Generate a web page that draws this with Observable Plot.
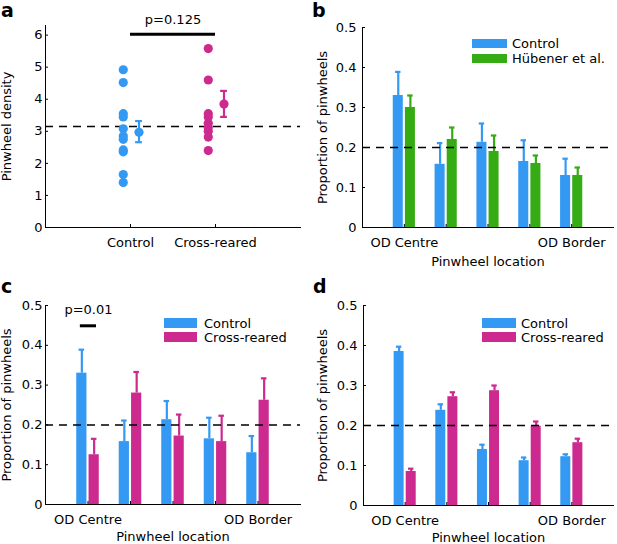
<!DOCTYPE html>
<html><head><meta charset="utf-8">
<script src="https://cdn.jsdelivr.net/npm/d3@7"></script>
<script src="https://cdn.jsdelivr.net/npm/@observablehq/plot@0.6"></script>
<style>
body{margin:0;background:#fff;font-family:"DejaVu Sans",sans-serif;}
#fig{position:relative;width:617px;height:544px;overflow:hidden;background:#fff}
.panel{position:absolute}
#overlay{position:absolute;left:0;top:0;pointer-events:none}
</style></head><body><div id="fig"></div>
<script>
const BLUE = "#3399f3", MAG = "#cc2a8f", GREEN = "#35ab14";

// ---- panel a: pinwheel density ----
const groupsA = ["Control", "Cross-reared"];
const controlDensity = [4.92, 4.52, 3.55, 3.45, 3.08, 2.85, 2.75, 2.42, 2.36, 1.65, 1.40];
const crossDensity = [5.58, 4.60, 3.55, 3.45, 3.25, 3.12, 3.00, 2.82, 2.40];
const densityMean = [2.97, 3.85];
const densityLow = [2.66, 3.45];
const densityHigh = [3.32, 4.26];
const densityBaseline = 3.15;
const densityTicks = [0, 1, 2, 3, 4, 5, 6];
const pA = "p=0.125", pAy = 6.03;

// ---- panels b-d: proportion of pinwheels by location ----
const locations = [1, 2, 3, 4, 5];
const locationLabels = ["OD Centre", "", "", "", "OD Border"];
const propTicks = [0, 0.1, 0.2, 0.3, 0.4, 0.5];
const controlProp = [0.330, 0.158, 0.213, 0.165, 0.130];
const controlErr  = [0.389, 0.211, 0.260, 0.218, 0.172];
const hubenerProp = [0.300, 0.220, 0.190, 0.160, 0.130];
const hubenerErr  = [0.330, 0.250, 0.230, 0.180, 0.150];
const crossProp   = [0.125, 0.280, 0.172, 0.158, 0.262];
const crossErr    = [0.165, 0.333, 0.226, 0.223, 0.317];
const control2Prop = [0.385, 0.238, 0.140, 0.112, 0.122];
const control2Err  = [0.397, 0.253, 0.152, 0.120, 0.128];
const cross2Prop   = [0.085, 0.272, 0.287, 0.198, 0.157];
const cross2Err    = [0.092, 0.283, 0.300, 0.210, 0.167];
const propBaseline = 0.2;
const pC = "p=0.01", pCy = 0.449;

const fig = document.getElementById("fig");
const FONT = {fontFamily: "DejaVu Sans, sans-serif", fontSize: "13px", background: "transparent", color: "black", overflow: "visible"};

function place(svg, left, top) {
  svg.classList.add("panel");
  svg.style.left = left + "px";
  svg.style.top = top + "px";
  fig.appendChild(svg);
}

// panel a
{
  const pts = [
    ...controlDensity.map(v => ({g: 1, v, c: BLUE})),
    ...crossDensity.map(v => ({g: 2, v, c: MAG}))
  ];
  const means = groupsA.map((name, i) => ({g: i + 1, m: densityMean[i], lo: densityLow[i], hi: densityHigh[i], c: i ? MAG : BLUE}));
  const svg = Plot.plot({
    width: 308, height: 272,
    marginLeft: 45, marginRight: 8, marginTop: 25, marginBottom: 45,
    style: FONT,
    x: {domain: [0, 3]},
    y: {domain: [0, 6.3]},
    color: {type: "identity"},
    marks: [
      Plot.ruleY([densityBaseline], {stroke: "black", strokeWidth: 1.5, strokeDasharray: "8,6"}),
      Plot.dot(pts, {x: d => d.g - 0.085, y: "v", r: 4.6, fill: "c", stroke: null}),
      Plot.ruleX(means, {x: d => d.g + 0.1, y1: "lo", y2: "hi", stroke: "c", strokeWidth: 2.2}),
      Plot.ruleY(means, {y: "lo", x1: d => d.g + 0.06, x2: d => d.g + 0.14, stroke: "c", strokeWidth: 2.2}),
      Plot.ruleY(means, {y: "hi", x1: d => d.g + 0.06, x2: d => d.g + 0.14, stroke: "c", strokeWidth: 2.2}),
      Plot.dot(means, {x: d => d.g + 0.1, y: "m", r: 4.6, fill: "c", stroke: null}),
      Plot.ruleY([pAy], {x1: 1, x2: 2, stroke: "black", strokeWidth: 3}),
      Plot.text([pA], {x: 1.5, y: pAy, dy: -14, lineAnchor: "middle", fontSize: 13}),
      Plot.frame({anchor: "left"}),
      Plot.frame({anchor: "bottom"}),
      Plot.axisY({ticks: densityTicks, tickFormat: d => String(d), tickSize: -3, tickPadding: 6, label: null}),
      Plot.axisX({ticks: [1, 2], tickFormat: d => groupsA[d - 1], tickSize: -3, tickPadding: 13, label: null}),
      Plot.text(["Pinwheel density"], {frameAnchor: "left", rotate: -90, dx: -38.5, textAnchor: "middle", lineAnchor: "middle", fontSize: 13})
    ]
  });
  place(svg, 0, 0);
}

function barPanel({left, top, marginLeft, marginRight, marginTop, marginBottom, series, tickPadding, sig, labelDx, labelDy}) {
  const rows = [];
  series.forEach((s, k) => s.values.forEach((v, i) => rows.push({loc: locations[i], k, v, e: s.err[i], c: s.color})));
  const W = 0.24, G = 0.025;
  const x1 = d => d.loc + (d.k === 0 ? -(G + W) : G);
  const x2 = d => d.loc + (d.k === 0 ? -G : G + W);
  const xc = d => d.loc + (d.k === 0 ? -(G + W / 2) : G + W / 2);
  const marks = [
    Plot.rectY(rows, {x1, x2, y1: 0, y2: "v", fill: "c"}),
    Plot.ruleX(rows, {x: xc, y1: "v", y2: "e", stroke: "c", strokeWidth: 2.2}),
    Plot.ruleY(rows, {y: "e", x1: d => xc(d) - 0.065, x2: d => xc(d) + 0.065, stroke: "c", strokeWidth: 2.2}),
    Plot.ruleY([propBaseline], {stroke: "black", strokeWidth: 1.5, strokeDasharray: "8,6"}),
    Plot.frame({anchor: "left"}),
    Plot.frame({anchor: "bottom"}),
    Plot.axisY({ticks: propTicks, tickFormat: d => d === 0 ? "0" : d.toFixed(1), tickSize: -3, tickPadding, label: null}),
    Plot.axisX({ticks: locations, tickFormat: d => locationLabels[d - 1], tickSize: -3, tickPadding: 13, label: null}),
    Plot.text(["Proportion of pinwheels"], {frameAnchor: "left", rotate: -90, dx: labelDx, textAnchor: "middle", lineAnchor: "middle", fontSize: 13}),
    Plot.text(["Pinwheel location"], {frameAnchor: "bottom", dy: labelDy, textAnchor: "middle", lineAnchor: "middle", fontSize: 13})
  ];
  if (sig) {
    marks.push(Plot.ruleY([sig.y], {x1: sig.x1, x2: sig.x2, stroke: "black", strokeWidth: 3}));
    marks.push(Plot.text([sig.text], {x: (sig.x1 + sig.x2) / 2, y: sig.y, dy: -15.5, lineAnchor: "middle", fontSize: 13}));
  }
  const svg = Plot.plot({
    width: left > 0 ? 307 : 308, height: 272,
    marginLeft, marginRight, marginTop, marginBottom,
    style: FONT,
    x: {domain: [0, 6]},
    y: {domain: [0, 0.5]},
    color: {type: "identity"},
    marks
  });
  place(svg, left, top);
}

barPanel({left: 310, top: 0, marginLeft: 52, marginRight: 4, marginTop: 27, marginBottom: 45, tickPadding: 9, labelDx: -40, labelDy: 34.4,
  series: [{values: controlProp, err: controlErr, color: BLUE}, {values: hubenerProp, err: hubenerErr, color: GREEN}]});
barPanel({left: 0, top: 272, marginLeft: 45, marginRight: 8, marginTop: 33, marginBottom: 40, tickPadding: 6, labelDx: -38.5, labelDy: 32.5,
  series: [{values: controlProp, err: controlErr, color: BLUE}, {values: crossProp, err: crossErr, color: MAG}],
  sig: {y: pCy, x1: 0.82, x2: 1.2, text: pC}});
barPanel({left: 310, top: 272, marginLeft: 53, marginRight: 4, marginTop: 33, marginBottom: 39, tickPadding: 9, labelDx: -41, labelDy: 32,
  series: [{values: control2Prop, err: control2Err, color: BLUE}, {values: cross2Prop, err: cross2Err, color: MAG}]});

// overlay: panel letters and legends
const ns = "http://www.w3.org/2000/svg";
const ov = document.createElementNS(ns, "svg");
ov.setAttribute("id", "overlay");
ov.setAttribute("width", 617); ov.setAttribute("height", 544);
ov.setAttribute("font-family", "DejaVu Sans, sans-serif");
fig.appendChild(ov);
function el(tag, attrs, txt) {
  const e = document.createElementNS(ns, tag);
  for (const k in attrs) e.setAttribute(k, attrs[k]);
  if (txt != null) e.textContent = txt;
  ov.appendChild(e);
  return e;
}
const letters = [["a", 1, 17], ["b", 312, 17], ["c", 1, 293], ["d", 313, 293]];
letters.forEach(([t, x, y]) => el("text", {x, y, "font-size": 19, "font-weight": "bold"}, t));
const legends = [
  {x: 472, y: 39, w: 35, h: 9, gap: 15, tx: 512, items: [["Control", BLUE], ["Hübener et al.", GREEN]]},
  {x: 164, y: 318, w: 33, h: 10, gap: 14, tx: 204, items: [["Control", BLUE], ["Cross-reared", MAG]]},
  {x: 482, y: 318, w: 34, h: 10, gap: 14, tx: 521, items: [["Control", BLUE], ["Cross-reared", MAG]]}
];
legends.forEach(L => L.items.forEach(([name, color], i) => {
  const yy = L.y + i * L.gap;
  el("rect", {x: L.x, y: yy, width: L.w, height: L.h, fill: color});
  el("text", {x: L.tx, y: yy + L.h / 2 + 4.8, "font-size": 13}, name);
}));
</script></body></html>
